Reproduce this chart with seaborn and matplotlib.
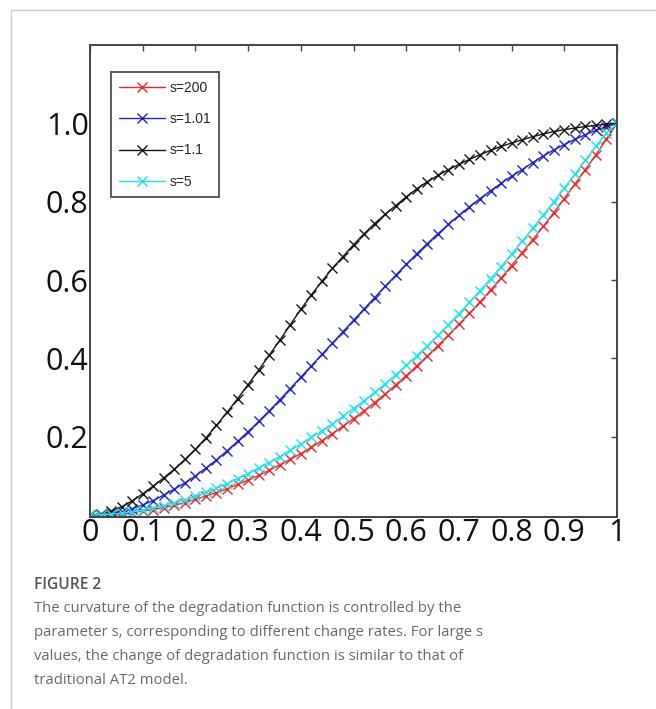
import numpy as np
import pandas as pd
import seaborn as sns
import matplotlib.pyplot as plt
from matplotlib.lines import Line2D

# x positions of the sampled points (0 .. 1 step 0.02)
x_vals = [0.00, 0.02, 0.04, 0.06, 0.08, 0.10, 0.12, 0.14, 0.16, 0.18,
          0.20, 0.22, 0.24, 0.26, 0.28, 0.30, 0.32, 0.34, 0.36, 0.38,
          0.40, 0.42, 0.44, 0.46, 0.48, 0.50, 0.52, 0.54, 0.56, 0.58,
          0.60, 0.62, 0.64, 0.66, 0.68, 0.70, 0.72, 0.74, 0.76, 0.78,
          0.80, 0.82, 0.84, 0.86, 0.88, 0.90, 0.92, 0.94, 0.96, 0.98, 1.00]

# values
s200 = [0.000, 0.000, 0.001, 0.003, 0.006, 0.010, 0.014, 0.019, 0.025, 0.032,
        0.040, 0.048, 0.057, 0.067, 0.078, 0.089, 0.101, 0.114, 0.128, 0.142,
        0.157, 0.173, 0.190, 0.208, 0.227, 0.246, 0.266, 0.287, 0.309, 0.332,
        0.356, 0.381, 0.406, 0.432, 0.459, 0.487, 0.515, 0.544, 0.574, 0.605,
        0.637, 0.670, 0.703, 0.737, 0.772, 0.808, 0.845, 0.882, 0.920, 0.960, 1.000]
s101 = [0.000, 0.001, 0.004, 0.009, 0.016, 0.026, 0.037, 0.051, 0.066, 0.082,
        0.100, 0.120, 0.141, 0.164, 0.188, 0.213, 0.239, 0.266, 0.294, 0.323,
        0.352, 0.381, 0.410, 0.439, 0.468, 0.497, 0.526, 0.555, 0.584, 0.612,
        0.640, 0.667, 0.693, 0.718, 0.742, 0.765, 0.787, 0.808, 0.828, 0.847,
        0.865, 0.882, 0.900, 0.917, 0.932, 0.946, 0.959, 0.971, 0.982, 0.991, 1.000]
s11 = [0.000, 0.003, 0.010, 0.021, 0.036, 0.054, 0.074, 0.095, 0.117, 0.142,
       0.168, 0.197, 0.229, 0.262, 0.297, 0.333, 0.370, 0.408, 0.446, 0.486,
       0.525, 0.562, 0.597, 0.630, 0.660, 0.690, 0.718, 0.744, 0.768, 0.790,
       0.812, 0.833, 0.851, 0.867, 0.882, 0.895, 0.908, 0.920, 0.931, 0.941,
       0.950, 0.958, 0.966, 0.973, 0.979, 0.984, 0.988, 0.992, 0.995, 0.998, 1.000]
s5 = [0.000, 0.001, 0.002, 0.005, 0.008, 0.012, 0.018, 0.024, 0.031, 0.039,
      0.048, 0.058, 0.068, 0.080, 0.093, 0.106, 0.120, 0.134, 0.149, 0.165,
      0.181, 0.198, 0.215, 0.233, 0.252, 0.272, 0.292, 0.313, 0.335, 0.358,
      0.382, 0.407, 0.432, 0.459, 0.486, 0.514, 0.543, 0.573, 0.603, 0.634,
      0.666, 0.699, 0.732, 0.766, 0.800, 0.835, 0.870, 0.906, 0.942, 0.975, 1.000]

labels = ['s=200', 's=1.01', 's=1.1', 's=5']
colors = ['#f0282a', '#2323c8', '#151515', '#18e6ee']

xticks = [0, 0.1, 0.2, 0.3, 0.4, 0.5, 0.6, 0.7, 0.8, 0.9, 1]
xtick_labels = ['0', '0.1', '0.2', '0.3', '0.4', '0.5', '0.6', '0.7', '0.8', '0.9', '1']
yticks = [0.2, 0.4, 0.6, 0.8, 1.0]
ytick_labels = ['0.2', '0.4', '0.6', '0.8', '1.0']

caption_title = 'FIGURE 2'
caption_lines = ['The curvature of the degradation function is controlled by the',
                 'parameter s, corresponding to different change rates. For large s',
                 'values, the change of degradation function is similar to that of',
                 'traditional AT2 model.']

df = pd.DataFrame({'x': x_vals * 4,
                   'y': s200 + s101 + s11 + s5,
                   'series': [l for l in labels for _ in x_vals]})

sns.set_style('white')
plt.rcParams['font.family'] = ['Open Sans', 'DejaVu Sans']

fig = plt.figure(figsize=(6.56, 7.09), dpi=100)
ax = fig.add_axes([0.1372, 0.2708, 0.8034, 0.6657])

for lab, col in zip(labels, colors):
    sub = df[df.series == lab]
    sns.lineplot(data=sub, x='x', y='y', ax=ax, color=col, marker='x',
                 markersize=7, markeredgewidth=1.0, markeredgecolor=col,
                 linewidth=1.0, label=lab, estimator=None, sort=False)

ax.set_xlim(0, 1)
ax.set_ylim(-0.005, 1.2)
ax.set_xticks(xticks)
ax.set_xticklabels(xtick_labels)
ax.set_yticks(yticks)
ax.set_yticklabels(ytick_labels)
ax.set_xlabel('')
ax.set_ylabel('')
ax.tick_params(direction='in', length=4, width=1, color='#444444',
               top=True, right=True, labelsize=22, labelcolor='#111111')
ax.tick_params(axis='x', pad=1)
ax.tick_params(axis='y', pad=1)
for lbl in ax.get_xticklabels() + ax.get_yticklabels():
    lbl.set_fontweight('medium')
for sp in ax.spines.values():
    sp.set_color('#444444')
    sp.set_linewidth(1.4)

leg = ax.legend(loc='upper left', bbox_to_anchor=(0.04, 0.942), borderaxespad=0,
                frameon=True, fancybox=False,
                prop={'family': 'Liberation Sans', 'size': 10},
                handlelength=3.3, labelspacing=1.25, borderpad=0.6,
                handletextpad=0.3)
leg.get_frame().set_edgecolor('#333333')
leg.get_frame().set_linewidth(1.4)

# panel border
fig.add_artist(Line2D([11 / 656, 11 / 656], [0, 1 - 10 / 709], color='#cccccc', lw=1))
fig.add_artist(Line2D([11 / 656, 1], [1 - 10 / 709, 1 - 10 / 709], color='#cccccc', lw=1))

fig.text(34 / 656, 1 - 585 / 709, caption_title, fontsize=11.2, color='#555555',
         fontweight='semibold', va='center', ha='left')
for i, line in enumerate(caption_lines):
    fig.text(34 / 656, 1 - (608 + 24 * i) / 709, line, fontsize=10.7, color='#6a6a6a',
             va='center', ha='left')

fig.savefig('out.png', dpi=100)
